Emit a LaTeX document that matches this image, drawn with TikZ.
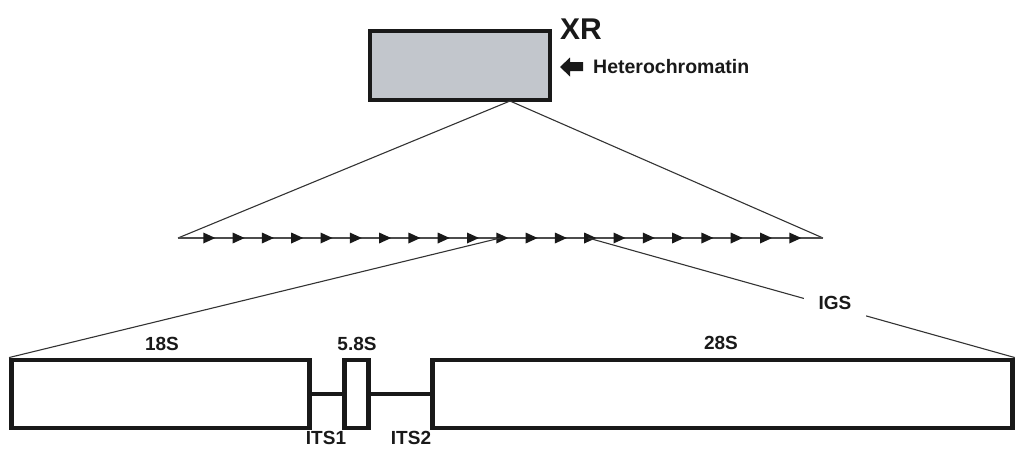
\documentclass[tikz,border=0pt]{standalone}
\usepackage{fontspec}
\setmainfont{Liberation Sans}
\definecolor{boxgray}{RGB}{194,198,204}
\begin{document}
\begin{tikzpicture}[x=1pt,y=-1pt,
  box/.style={draw=black!90,line width=4.5pt,inner sep=0pt,minimum height=68.4pt},
  thin/.style={draw=black!80,line width=1.1pt},
  lbl/.style={font=\bfseries\fontsize{19}{19}\selectfont,inner sep=0pt,text=black!90}]
\useasboundingbox (0,0) rectangle (1015,448);
% top box
\node[box,line width=4pt,minimum width=180pt,minimum height=69pt,fill=boxgray] (xr) at (460,65.5) {};
\node[lbl,font=\bfseries\fontsize{30}{30}\selectfont,anchor=west] (xrl) at (560,29) {XR};
\node[lbl,font=\bfseries\fontsize{19.5}{20}\selectfont,anchor=west] (het) at (593,67) {Heterochromatin};
\fill[black!90] (560,67) -- (570,57.5) -- (570,62) -- (583,62) -- (583,71) -- (570,71) -- (570,76.5) -- cycle;
% middle line
\coordinate (apex) at (510,101);
\coordinate (mL) at (178,238);
\coordinate (mR) at (823,238);
\draw[thin] (mL) -- (apex) -- (mR);
\draw[thin,draw=black!70,line width=1.4pt] (mL) -- (mR);
\foreach \i in {0,...,20}{
  \fill[black!90] ({209.3+29.3*\i+6},238) -- ({209.3+29.3*\i-6},232.5) -- ({209.3+29.3*\i-6},243.5) -- cycle;
}
\coordinate (a11) at (500.3,238);
\coordinate (a14) at (588.2,238);
% bottom boxes
\node[box,minimum width=298.4pt] (r18) at (160.5,394) {};
\node[box,minimum width=24pt] (r58) at (356.5,394) {};
\node[box,minimum width=580pt] (r28) at (722.5,394) {};
\draw[draw=black!90,line width=3.5pt] (r18.east) -- (r58.west);
\draw[draw=black!90,line width=3.5pt] (r58.east) -- (r28.west);
\draw[thin] (a11) -- (r18.north west);
\draw[thin] (a14) -- (r28.north east);
\node[lbl,fill=white,inner xsep=15pt,inner ysep=9pt] (igs) at (835,302.5) {IGS};
% labels
\node[lbl] (l18) at (162,344) {18S};
\node[lbl] (l58) at (357,344) {5.8S};
\node[lbl] (l28) at (721,343) {28S};
\node[lbl] (its1) at (326,437.5) {ITS1};
\node[lbl] (its2) at (411,437.5) {ITS2};
\end{tikzpicture}
\end{document}
